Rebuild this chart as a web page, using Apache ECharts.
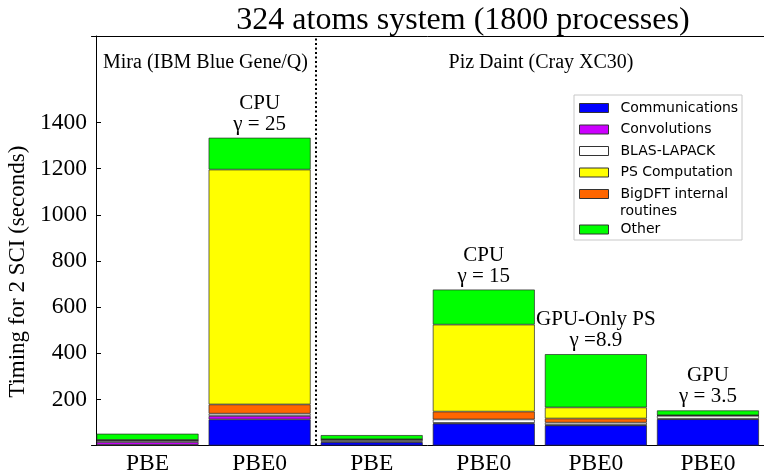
<!DOCTYPE html>
<html><head><meta charset="utf-8">
<script src="https://cdn.jsdelivr.net/npm/echarts@6/dist/echarts.min.js"></script>
<style>html,body{margin:0;padding:0;background:#fff}#c{width:764px;height:471px}</style>
</head><body><div id="c"></div>
<script>
// ---- data ----
const categories = ['PBE', 'PBE0', 'PBE', 'PBE0', 'PBE0', 'PBE0'];
const communications = [3, 113, 14, 95, 87, 114];
const convolutions = [12, 15, 3, 3, 2, 2];
const blasLapack = [6, 10, 7, 15, 10, 13];
const bigdftInternal = [2, 40, 2, 34, 18, 1];
const psComputation = [1, 1018, 1, 377, 48, 1];
const other = [27, 138, 18, 152, 231, 21];
const annotations = ['', 'CPU\nγ = 25', '', 'CPU\nγ = 15', 'GPU-Only PS\nγ =8.9', 'GPU\nγ = 3.5'];
const yTicks = [200, 400, 600, 800, 1000, 1200, 1400];
const legendNames = ['Communications', 'Convolutions', 'BLAS-LAPACK', 'PS Computation', 'BigDFT internal routines', 'Other'];
const machineSplit = [2]; // boundary between Mira and Piz Daint groups (in category units)

const SERIF = "'Liberation Serif', 'Times New Roman', serif";
const SANS = "'DejaVu Sans', sans-serif";
const chart = echarts.init(document.getElementById('c'), null, {renderer: 'canvas'});

function mk(name, data, color, extra) {
  return Object.assign({
    name: name, type: 'bar', stack: 'total', data: data, barWidth: 102,
    itemStyle: {color: color, borderColor: '#2a2a2a', borderWidth: 0.7},
    emphasis: {disabled: true}
  }, extra || {});
}

const series = [
  mk('Communications', communications, '#0000ff'),
  mk('Convolutions', convolutions, '#cc00ff'),
  mk('BLAS-LAPACK', blasLapack, '#ffffff'),
  mk('BigDFT internal routines', bigdftInternal, '#ff6600'),
  mk('PS Computation', psComputation, '#ffff00'),
  mk('Other', other, '#00ff00', {
    label: {
      show: true, position: 'top', distance: 3,
      formatter: function (p) { return annotations[p.dataIndex]; },
      fontFamily: SERIF, fontSize: 21, lineHeight: 21, color: '#000'
    }
  }),
  {
    type: 'line', xAxisIndex: 1, yAxisIndex: 0, data: [], silent: true,
    markLine: {
      symbol: 'none', silent: true, label: {show: false}, animation: false,
      lineStyle: {color: '#000', width: 2, type: [2, 2.5]},
      data: machineSplit.map(function (v) { return {xAxis: v}; })
    }
  }
];

chart.setOption({
  animation: false,
  title: {
    text: '324 atoms system (1800 processes)', left: 463, top: 5, textAlign: 'center', padding: 0,
    textStyle: {fontFamily: SERIF, fontSize: 32, fontWeight: 'normal', color: '#000'}
  },
  grid: {left: 91.5, right: 0, top: 36, bottom: 25.5, containLabel: false, outerBoundsMode: 'none'},
  legend: {
    orient: 'vertical', left: 579, top: 101, padding: 0, icon: 'rect',
    itemWidth: 29, itemHeight: 9, itemGap: 7.5, selectedMode: false, z: 5,
    data: legendNames,
    formatter: function (n) {
      if (n === 'BigDFT internal routines') return 'BigDFT internal';
      if (n === 'Other') return ' \nOther\n ';
      return n;
    },
    textStyle: {fontFamily: SANS, fontSize: 14, color: '#000', padding: [0, 0, 0, 7]},
    itemStyle: {borderColor: '#333', borderWidth: 1}
  },
  xAxis: [{
    type: 'category', data: categories,
    axisLine: {lineStyle: {color: '#000', width: 1}},
    axisTick: {show: false},
    axisLabel: {interval: 0, fontFamily: SERIF, fontSize: 23.5, color: '#000', margin: 6},
    splitLine: {show: false}
  }, {
    type: 'value', min: 0, max: categories.length, position: 'top',
    axisLine: {show: true, onZero: false, lineStyle: {color: '#000', width: 1}},
    axisTick: {show: false}, axisLabel: {show: false}, splitLine: {show: false}
  }],
  yAxis: {
    type: 'value', min: 0, max: 1775, offset: -4.5,
    axisLine: {show: true, lineStyle: {color: '#000', width: 1}},
    axisTick: {show: true, inside: true, length: 5, customValues: yTicks, lineStyle: {color: '#000'}},
    axisLabel: {customValues: yTicks, formatter: function (v) { return String(v); },
      fontFamily: SERIF, fontSize: 23.5, color: '#000', margin: 9},
    splitLine: {show: false},
    name: 'Timing for 2 SCI (seconds)', nameLocation: 'middle', nameRotate: 90, nameGap: 67,
    nameTextStyle: {fontFamily: SERIF, fontSize: 23, color: '#000', padding: [0, 62, 0, 0]}
  },
  graphic: [
    {type: 'rect', z: 3, shape: {x: 574, y: 95, width: 168, height: 145},
      style: {fill: '#fff', stroke: '#c8c8c8', lineWidth: 1}},
    {type: 'text', z: 6, x: 620, y: 211.7,
      style: {text: 'routines', fontFamily: SANS, fontSize: 14, fill: '#000', align: 'left', verticalAlign: 'middle'}},
    {type: 'text', z: 6, x: 103, y: 63,
      style: {text: 'Mira (IBM Blue Gene/Q)', fontFamily: SERIF, fontSize: 20, fill: '#000', align: 'left', verticalAlign: 'middle'}},
    {type: 'text', z: 6, x: 541, y: 63,
      style: {text: 'Piz Daint (Cray XC30)', fontFamily: SERIF, fontSize: 20, fill: '#000', align: 'center', verticalAlign: 'middle'}}
  ],
  series: series
});
</script>
</body></html>
